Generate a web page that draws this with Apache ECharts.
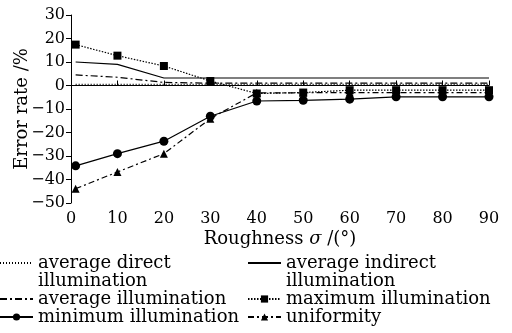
<!DOCTYPE html>
<html>
<head>
<meta charset="utf-8">
<script src="https://cdn.jsdelivr.net/npm/echarts@6/dist/echarts.min.js"></script>
<style>html,body{margin:0;padding:0;background:#fff}#c{width:512px;height:333px}</style>
</head>
<body>
<div id="c"></div>
<script>
var roughness = [1, 10, 20, 30, 40, 50, 60, 70, 80, 90];
var avgDirect = [0.5, 0.5, 0.5, 0.5, 0.5, 0.5, 0.5, 0.5, 0.5, 0.5];
var avgIndirect = [10.0, 9.0, 3.2, 3.2, 3.2, 3.2, 3.2, 3.2, 3.2, 3.2];
var avgIllum = [4.5, 3.5, 1.3, 1.0, 1.0, 1.0, 1.0, 1.0, 1.0, 1.0];
var maxIllum = [17.4, 12.7, 8.3, 1.9, -3.4, -3.0, -2.0, -2.0, -2.0, -2.0];
var minIllum = [-34.2, -29.0, -23.7, -13.1, -6.6, -6.3, -5.8, -4.8, -4.8, -4.8];
var uniformity = [-43.9, -36.8, -29.0, -14.1, -3.1, -3.1, -3.0, -3.0, -3.0, -3.0];
var xTicks = [0, 10, 20, 30, 40, 50, 60, 70, 80, 90];
var yTicks = [-50, -40, -30, -20, -10, 0, 10, 20, 30];

var FONT = 'DejaVu Serif';
function pairs(v) { return roughness.map(function (x, i) { return [x, v[i]]; }); }
function mk(name, data, type, symbol, size) {
  return {
    name: name, type: 'line', data: pairs(data),
    symbol: symbol || 'none', symbolSize: size || 0, showSymbol: !!symbol,
    lineStyle: { color: '#000', width: 1.2, type: type },
    itemStyle: { color: '#000' },
    animation: false
  };
}
var chart = echarts.init(document.getElementById('c'));
var legendText = { fontFamily: FONT, fontSize: 18, color: '#000', lineHeight: 18 };
function fmt(n) {
  if (n === 'average direct illumination') return '\naverage direct\nillumination';
  if (n === 'average indirect illumination') return '\naverage indirect\nillumination';
  return n;
}
var noSym = { opacity: 0 };
chart.setOption({
  backgroundColor: '#fff',
  grid: { left: 71, right: 23, top: 15, bottom: 130, outerBoundsMode: 'none', containLabel: false },
  xAxis: {
    type: 'value', min: xTicks[0], max: xTicks[xTicks.length - 1], interval: 10,
    name: 'Roughness {i|σ} /(°)', nameLocation: 'middle', nameGap: 27, nameMoveOverlap: false,
    nameTextStyle: { fontFamily: FONT, fontSize: 18, color: '#000',
      rich: { i: { fontFamily: FONT, fontSize: 18, fontStyle: 'italic', color: '#000' } } },
    axisLine: { lineStyle: { color: '#000', width: 1 } },
    axisTick: { inside: true, length: 5, lineStyle: { color: '#000' } },
    axisLabel: { fontFamily: FONT, fontSize: 16, color: '#000', margin: 8 },
    splitLine: { show: false }
  },
  yAxis: {
    type: 'value', min: yTicks[0], max: yTicks[yTicks.length - 1], interval: 10,
    name: 'Error rate /%', nameLocation: 'middle', nameGap: 40, nameMoveOverlap: false,
    nameTextStyle: { fontFamily: FONT, fontSize: 18, color: '#000' },
    axisLine: { show: true, lineStyle: { color: '#000', width: 1 } },
    axisTick: { show: true, length: 5, lineStyle: { color: '#000' } },
    axisLabel: { fontFamily: FONT, fontSize: 16, color: '#000', margin: 6,
      formatter: function (v) { return String(v).replace('-', '\u2212'); } },
    splitLine: { show: false }
  },
  legend: [
    { orient: 'vertical', left: -1, top: 236, padding: 0, itemGap: 0, itemWidth: 33, itemHeight: 9,
      textStyle: legendText, formatter: fmt,
      data: [{ name: 'average direct illumination', itemStyle: noSym },
             { name: 'average illumination', itemStyle: noSym }, 'minimum illumination'] },
    { orient: 'vertical', left: 247, top: 236, padding: 0, itemGap: 0, itemWidth: 33, itemHeight: 9,
      textStyle: legendText, formatter: fmt,
      data: [{ name: 'average indirect illumination', itemStyle: noSym },
             'maximum illumination', 'uniformity'] }
  ],
  series: [
    mk('average direct illumination', avgDirect, [1, 2]),
    mk('average indirect illumination', avgIndirect, 'solid'),
    mk('average illumination', avgIllum, [7, 3, 2, 3]),
    mk('maximum illumination', maxIllum, [1.5, 1.5], 'rect', 8),
    mk('minimum illumination', minIllum, 'solid', 'circle', 9),
    mk('uniformity', uniformity, [6, 3, 2, 3], 'triangle', 8)
  ]
});
</script>
</body>
</html>
